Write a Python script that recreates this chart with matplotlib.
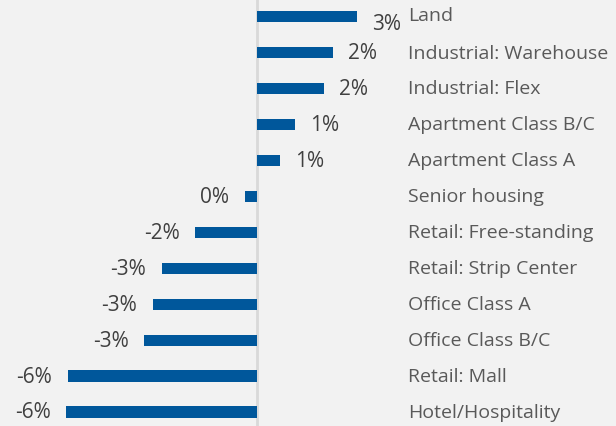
import matplotlib.pyplot as plt
import matplotlib.transforms as mtransforms

# categories top to bottom, values in %
categories = ["Land", "Industrial: Warehouse", "Industrial: Flex", "Apartment Class B/C",
              "Apartment Class A", "Senior housing", "Retail: Free-standing",
              "Retail: Strip Center", "Office Class A", "Office Class B/C",
              "Retail: Mall", "Hotel/Hospitality"]
values = [2.99, 2.28, 1.99, 1.13, 0.71, -0.33, -1.81, -2.79, -3.08, -3.32, -5.6, -5.63]

bar_color = "#00579b"
bg = "#f2f2f2"

plt.rcParams['font.family'] = ['Open Sans', 'DejaVu Sans']

fig = plt.figure(figsize=(6.16, 4.27), dpi=100, facecolor=bg)
ax = fig.add_axes([0, 0, 1, 1])
ax.set_facecolor(bg)

y = list(range(len(categories)))
ax.barh(y, values, height=0.31, color=bar_color, zorder=2)
ax.axvline(0, color="#d9d9d9", lw=2, zorder=1)

ax.set_xlim(-7.6, 10.65)
ax.set_ylim(11.39, -0.49)

for i, (cat, v) in enumerate(zip(categories, values)):
    label = f"{int(round(v))}%"
    dy = 7 if i == 0 else 0
    off = mtransforms.offset_copy(ax.transData, fig=fig, x=15 if v >= 0 else -16, y=-dy, units='dots')
    ax.text(v, i, label, transform=off, ha='left' if v >= 0 else 'right', va='center',
            fontsize=15, color="#404040")
    cy = -2 if i == 0 else 0
    off2 = mtransforms.offset_copy(ax.transData, fig=fig, x=0, y=-cy, units='dots')
    ax.text(4.5, i, cat, transform=off2, ha='left', va='center', fontsize=14, color="#595959")

ax.axis('off')
plt.savefig("out.png", dpi=100, facecolor=bg)
